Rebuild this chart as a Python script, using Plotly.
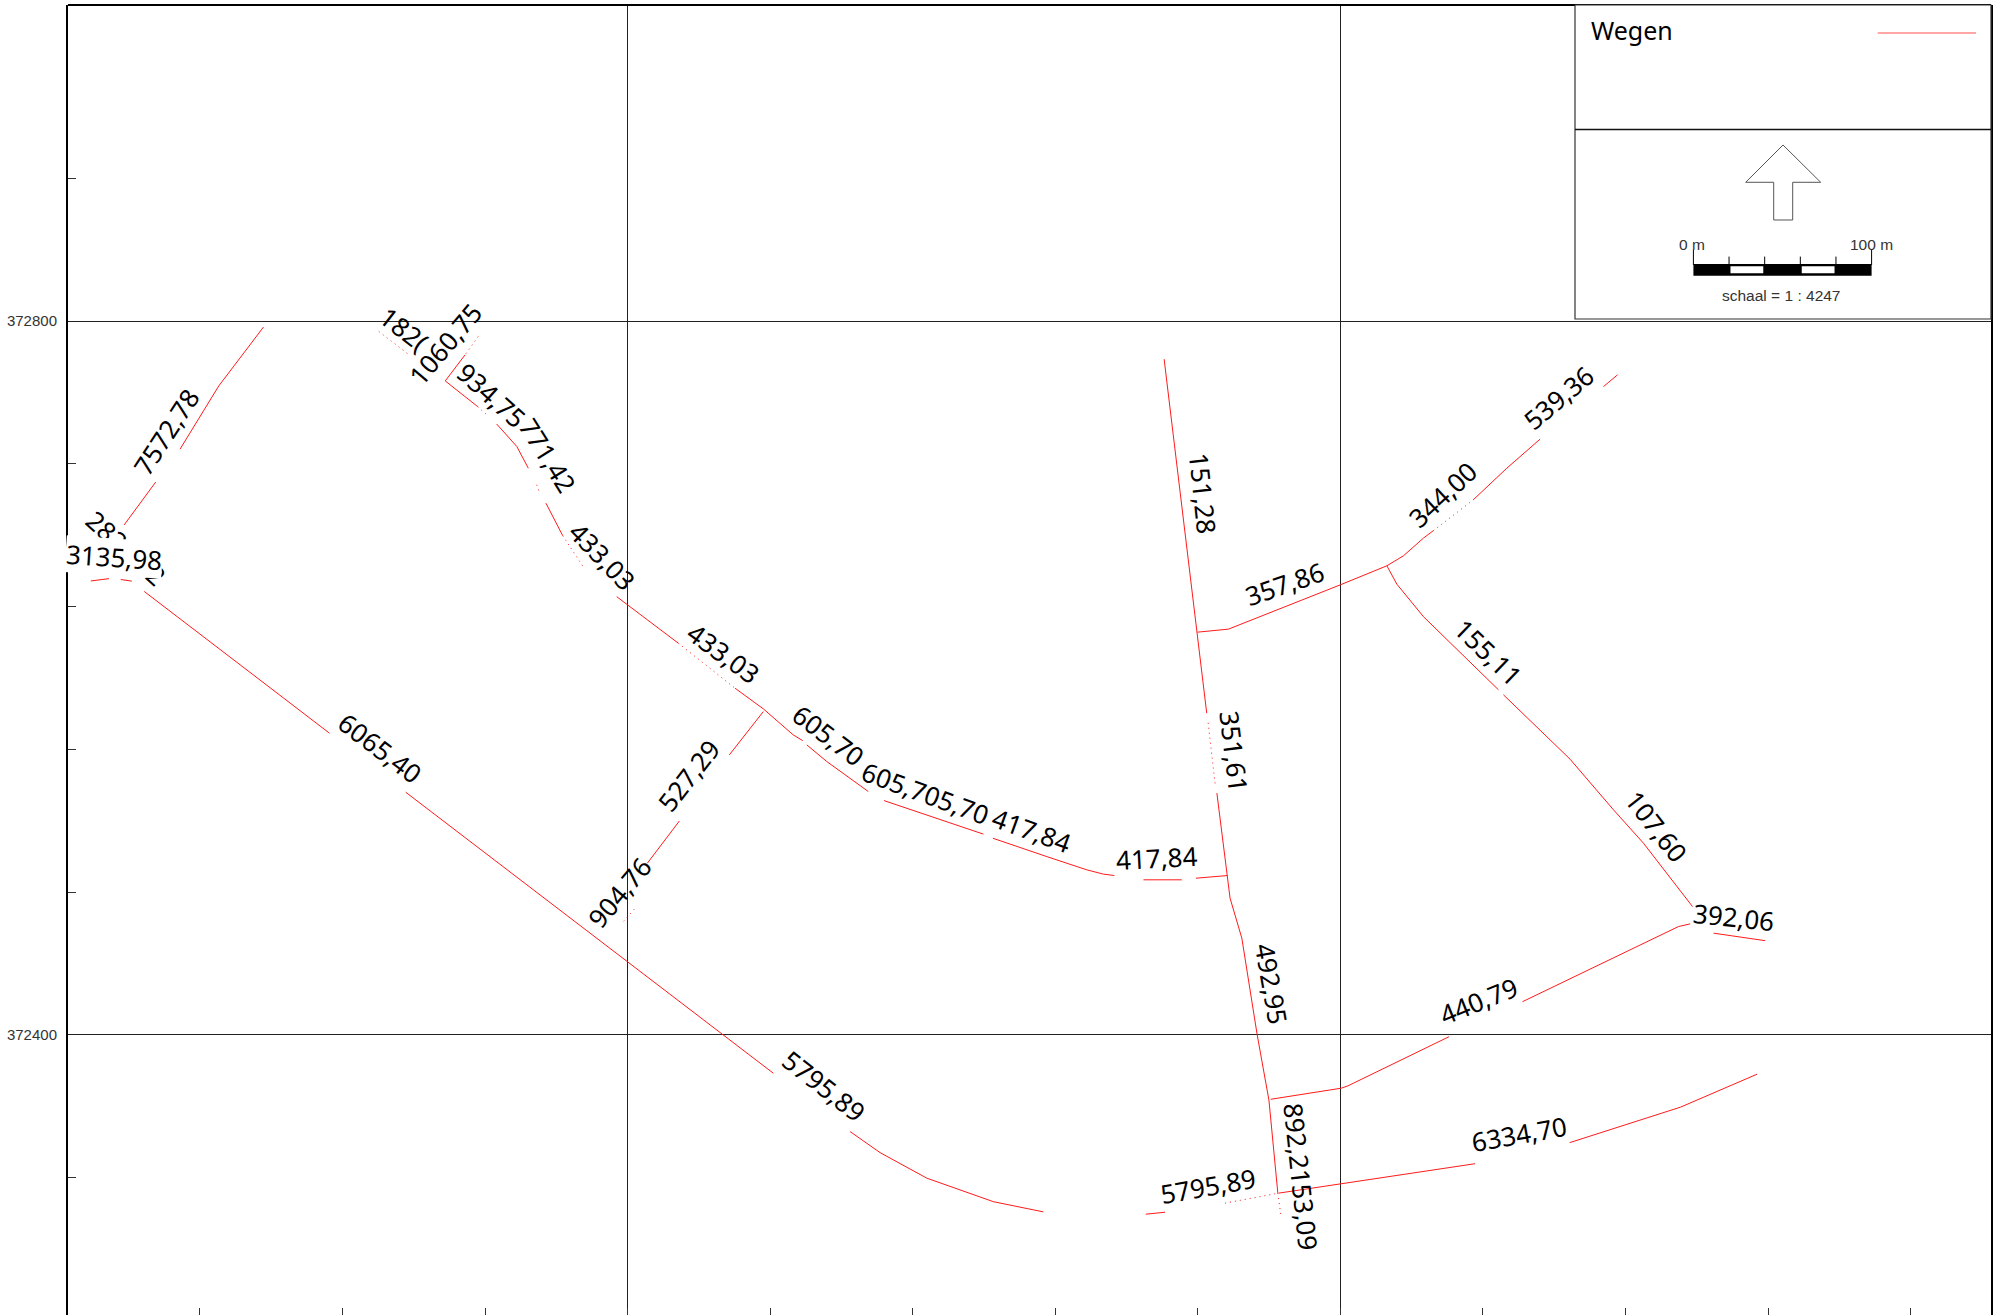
import plotly.graph_objects as go

# Road centre-lines, map units (None = break where a label masks the road)
solid_x = [795.7, 770.6, 748.9, None, 735.2, 717.5, None,
           908.8, 901.7, 897.7, 915.9, None,
           926.5, 937.9, 944.3, None,
           954.2, 963.6, None,
           993.9, 1028.5, None,
           1060.3, 1076.2, 1093.0, 1098.3, None,
           1100.6, 1111.8, 1135.1, None,
           1143.9, 1199.7, None, 1205.0, 1235.3, None,
           1235.3, 1257.7, 1267.0, 1273.2, None,
           1289.5, 1311.0, None, 1319.0, 1336.6, None,
           1076.2, 1057.1, None, 1029.1, 1011.1, None,
           728.8, 832.7, None,
           875.5, 1051.9, 1081.8, None,
           1124.9, 1141.7, 1167.9, 1205.3, 1233.3, None,
           1290.8, 1301.6, None,
           1365.4, 1475.6, None,
           1528.7, 1590.9, 1633.9, None,
           698.8, 709.0, None, 715.6, 721.8, None,
           1301.1, 1319.8, 1322.8, 1325.0, None,
           1330.7, 1336.6, 1338.1, 1344.7, 1353.3, 1359.9, 1364.9, None,
           1360.9, 1400.4, 1404.2, 1461.0, None,
           1502.2, 1589.7, 1596.3, None,
           1609.4, 1624.3, 1638.4, None,
           1319.8, 1337.2, 1399.9, 1426.1, 1435.4, 1446.6, 1452.2, None,
           1474.5, 1493.4, 1512.1, None,
           1547.6, 1555.5, None,
           1426.1, 1431.7, 1446.6, 1488.7, None,
           1491.5, 1512.1, 1528.9, 1553.3, 1570.1, 1597.6]
solid_y = [372796.7, 372763.7, 372728.3, None, 372709.8, 372685.8, None,
           372781.1, 372771.8, 372766.5, 372752.1, None,
           372742.4, 372729.7, 372717.6, None,
           372698.0, 372679.8, None,
           372645.6, 372619.5, None,
           372594.3, 372582.7, 372568.1, 372564.9, None,
           372562.5, 372553.2, 372536.4, None,
           372531.3, 372512.5, None, 372510.2, 372499.9, None,
           372499.9, 372492.5, 372490.1, 372489.3, None,
           372486.9, 372486.9, None, 372487.8, 372489.3, None,
           372581.2, 372556.9, None, 372519.9, 372496.2, None,
           372648.5, 372569.1, None,
           372536.0, 372401.3, 372378.5, None,
           372345.8, 372334.0, 372319.7, 372306.5, 372300.8, None,
           372299.5, 372300.6, None,
           372311.3, 372327.8, None,
           372339.6, 372359.5, 372378.0, None,
           372654.4, 372655.7, None, 372655.2, 372654.3, None,
           372778.7, 372626.0, 372599.0, 372580.3, None,
           372535.5, 372489.3, 372476.6, 372454.2, 372400.1, 372363.5, 372311.3, None,
           372363.9, 372370.1, 372371.4, 372399.0, None,
           372418.6, 372460.7, 372462.2, None,
           372457.0, 372454.7, 372452.8, None,
           372625.7, 372627.4, 372652.2, 372662.9, 372668.5, 372678.4, 372682.6, None,
           372699.8, 372717.6, 372733.9, None,
           372763.3, 372769.9, None,
           372662.9, 372652.6, 372634.4, 372593.4, None,
           372590.6, 372570.5, 372554.5, 372526.1, 372507.4, 372471.9]

# Stretches of road that survive only as scattered dots
dotted_x = [860.4, 878.2, None, 916.2, 908.8, None, 915.9, 920.6, None,
            949.0, 950.7, None, 963.6, 975.0, None,
            1028.5, 1060.3, None, 1003.7, 997.0, None,
            1335.3, 1365.4, None, 1325.8, 1329.9, None, 1364.9, 1366.6, None,
            1452.2, 1474.5]
dotted_y = [372794.2, 372780.6, None, 372791.4, 372781.1, None, 372752.1, 372747.9, None,
            372708.3, 372703.8, None, 372679.8, 372662.5, None,
            372619.5, 372594.3, None, 372470.4, 372462.8, None,
            372305.7, 372311.3, None, 372574.9, 372539.2, None, 372311.3, 372299.1, None,
            372682.6, 372699.8]

# Road labels (map position and text rotation)
label_text = ["7572,78", "182(", "1060,75", "934,75", "771,42", "433,03", "433,03",
              "605,70", "605,705,70", "417,84", "417,84", "527,29", "904,76",
              "6065,40", "5795,89", "5795,89", "892,2153,09", "6334,70", "492,95",
              "351,61", "151,28", "357,86", "344,00", "539,36", "155,11", "107,60",
              "392,06", "440,79", "2820,82", "3135,98"]
label_x = [741.0, 874.6, 897.6, 923.6, 955.0, 985.8, 1053.6, 1112.5, 1167.0, 1226.4,
           1296.6, 1034.0, 995.2, 861.1, 1110.3, 1325.8, 1378.0, 1500.3, 1361.5,
           1340.4, 1323.0, 1368.4, 1457.1, 1522.2, 1482.9, 1577.2, 1620.4, 1477.3,
           718.6, 711.8]
label_y = [372738.0, 372795.7, 372787.3, 372758.6, 372724.8, 372668.5, 372614.1,
           372568.1, 372535.6, 372514.9, 372499.2, 372545.2, 372479.6, 372560.8,
           372371.4, 372315.3, 372320.4, 372344.5, 372428.6, 372559.2, 372703.8,
           372652.8, 372702.7, 372757.0, 372614.7, 372517.1, 372466.1, 372419.0,
           372672.9, 372667.9]
label_angle = [-57, 38, -50, 42, 58, 46, 36, 37, 20, 20, -3, -52, -50, 37, 38, -10,
               84, -10, 80, 83, 84, -19, -43, -40, 44, 52, 6, -22, 42, 4]

y_major = [372400, 372800]
y_major_text = ["372400", "372800"]
y_minor = [372320, 372480, 372560, 372640, 372720, 372880]
x_major = [1000, 1400]

W, H = 1997, 1315
ML, MR, MT, MB = 68, 6, 5, 0
RED = "#ff1a1a"
DARK = "#333333"


def fx(p):
    return (p - ML) / (W - ML - MR)


def fy(p):
    return 1 - (p - MT) / (H - MT - MB)


fig = go.Figure()
fig.add_trace(go.Scatter(x=solid_x, y=solid_y, mode="lines", name="Wegen",
                         line=dict(color=RED, width=1), showlegend=False,
                         hoverinfo="skip"))
fig.add_trace(go.Scatter(x=dotted_x, y=dotted_y, mode="lines", name="Wegen (stippen)",
                         line=dict(color=RED, width=1, dash="1px,4px"), showlegend=False,
                         hoverinfo="skip"))

shapes = []
# top frame line
shapes.append(dict(type="line", xref="paper", yref="paper", x0=0, x1=1, y0=1, y1=1,
                   line=dict(color="#000000", width=2)))
# legend box
shapes.append(dict(type="rect", xref="paper", yref="paper", x0=fx(1575), x1=fx(1991),
                   y0=fy(319), y1=fy(5), fillcolor="#ffffff",
                   line=dict(color="#333333", width=1.2)))
shapes.append(dict(type="line", xref="paper", yref="paper", x0=fx(1575), x1=fx(1991),
                   y0=fy(129.5), y1=fy(129.5), line=dict(color="#111111", width=1.5)))
shapes.append(dict(type="line", xref="paper", yref="paper", x0=fx(1877.7), x1=fx(1976),
                   y0=fy(33), y1=fy(33), line=dict(color="#ff5050", width=1.2)))
# north arrow
arrow = [(1783, 145), (1820.7, 182.3), (1792.7, 182.3), (1792.7, 220), (1773.7, 220),
         (1773.7, 182.3), (1745.7, 182.3)]
path = "M " + " L ".join(f"{fx(a):.5f} {fy(b):.5f}" for a, b in arrow) + " Z"
shapes.append(dict(type="path", xref="paper", yref="paper", path=path,
                   fillcolor="#ffffff", line=dict(color="#555555", width=1)))
# scale bar, drawn in map units: 100 m, five 20 m parts
bar_x0, bar_part = 1598.1, 20
shapes.append(dict(type="rect", xref="x", yref="y", x0=bar_x0, x1=bar_x0 + 5 * bar_part,
                   y0=372825.5, y1=372832.0, fillcolor="#000000", line=dict(width=0)))
for k in (1, 3):
    shapes.append(dict(type="rect", xref="x", yref="y", x0=bar_x0 + k * bar_part + 0.8,
                       x1=bar_x0 + (k + 1) * bar_part - 0.8, y0=372826.8, y1=372830.8,
                       fillcolor="#ffffff", line=dict(width=0)))
for k in range(6):
    top = 372840.0 if k in (0, 5) else 372836.2
    shapes.append(dict(type="line", xref="x", yref="y", x0=bar_x0 + k * bar_part,
                       x1=bar_x0 + k * bar_part, y0=372831.5, y1=top,
                       line=dict(color="#000000", width=1)))

annotations = []
for t, x, y, a in zip(label_text, label_x, label_y, label_angle):
    annotations.append(dict(text=t, x=x, y=y, xref="x", yref="y", textangle=a,
                            showarrow=False, xanchor="center", yanchor="middle",
                            font=dict(family="Noto Sans", size=26, color="#000000"),
                            bgcolor="#ffffff" if t == "3135,98" else None,
                            borderpad=0))
annotations.append(dict(text="Wegen", x=fx(1589), y=fy(30), xref="paper", yref="paper",
                        xanchor="left", yanchor="middle", showarrow=False,
                        font=dict(family="Noto Sans", size=25, color="#000000")))
for t, px_, py_, s in (("0 m", 1692.3, 244, 15.5), ("100 m", 1871.3, 244, 15.5),
                       ("schaal = 1 : 4247", 1781.7, 296, 15.5)):
    annotations.append(dict(text=t, x=fx(px_), y=fy(py_), xref="paper", yref="paper",
                            xanchor="center", yanchor="middle", showarrow=False,
                            font=dict(family="Liberation Sans", size=s, color=DARK)))

fig.update_layout(
    width=W, height=H, autosize=False,
    margin=dict(l=ML, r=MR, t=MT, b=MB),
    paper_bgcolor="#ffffff", plot_bgcolor="#ffffff",
    showlegend=False,
    shapes=shapes, annotations=annotations,
    xaxis=dict(range=[686.0, 1765.1], tickmode="array", tickvals=x_major,
               showticklabels=False, ticks="", showgrid=True, gridcolor="#222222",
               gridwidth=1.2, zeroline=False, showline=False,
               minor=dict(tick0=1000, dtick=80, ticks="inside", ticklen=7, tickwidth=1,
                          tickcolor=DARK, showgrid=False)),
    yaxis=dict(range=[372243.0, 372977.2], tickmode="array", tickvals=y_major,
               ticktext=y_major_text, ticks="", showgrid=True, gridcolor="#222222",
               gridwidth=1.2, zeroline=False, showline=True, linecolor="#000000",
               linewidth=2, mirror=True,
               tickfont=dict(family="Liberation Sans", size=15, color=DARK),
               ticklabelstandoff=6,
               minor=dict(tickmode="array", tickvals=y_minor, ticks="inside", ticklen=8,
                          tickwidth=1, tickcolor=DARK, showgrid=False)),
)

fig.write_html("out.html", config=dict(displayModeBar=False),
               post_script="document.body.style.margin='0';document.body.style.overflow='hidden';")
